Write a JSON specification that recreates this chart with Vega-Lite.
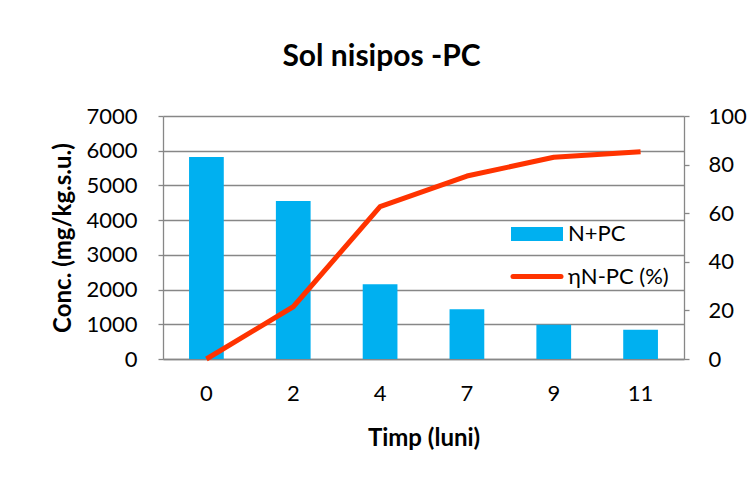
{
  "$schema": "https://vega.github.io/schema/vega-lite/v6.json",
  "width": 521,
  "height": 243,
  "autosize": {"type": "none"},
  "padding": {"left": 163, "top": 116, "right": 66, "bottom": 129},
  "background": "white",
  "title": {"text": "Sol nisipos -PC", "fontSize": 30, "font": "Lato", "fontWeight": "bold", "color": "#000000", "anchor": "middle", "dx": -42, "offset": 33},
  "config": {"view": {"stroke": null}, "font": "Lato"},
  "data": {
    "values": [
      {"t": "0", "conc": 5820, "eta": 0},
      {"t": "2", "conc": 4550, "eta": 21.5},
      {"t": "4", "conc": 2150, "eta": 62.7},
      {"t": "7", "conc": 1430, "eta": 75.3},
      {"t": "9", "conc": 990, "eta": 83},
      {"t": "11", "conc": 840, "eta": 85.3}
    ]
  },
  "encoding": {
    "x": {
      "field": "t",
      "type": "ordinal",
      "sort": ["0", "2", "4", "7", "9", "11"],
      "scale": {"paddingInner": 0.6, "paddingOuter": 0.3},
      "axis": {
        "title": "Timp (luni)",
        "labelAngle": 0,
        "ticks": false,
        "domainColor": "#878787",
        "domainWidth": 1.3,
        "labelFont": "Lato",
        "labelFontSize": 22,
        "labelPadding": 24,
        "labelColor": "#000000",
        "titleFont": "Lato",
        "titleFontSize": 24,
        "titleFontWeight": "bold",
        "titleColor": "#000000",
        "titlePadding": 22
      }
    }
  },
  "layer": [
    {
      "mark": {"type": "bar"},
      "encoding": {
        "y": {
          "field": "conc",
          "type": "quantitative",
          "scale": {"domain": [0, 7000]},
          "axis": {
            "title": "Conc. (mg/kg.s.u.)",
            "values": [0, 1000, 2000, 3000, 4000, 5000, 6000, 7000],
            "format": "d",
            "tickSize": 5,
            "tickColor": "#878787",
            "tickWidth": 1.3,
            "labelPadding": 21,
            "labelFont": "Lato",
            "labelFontSize": 22,
            "labelColor": "#000000",
            "titleFont": "Lato",
            "titleFontSize": 24,
            "titleFontWeight": "bold",
            "titleColor": "#000000",
            "titlePadding": 10,
            "gridColor": "#878787",
            "gridWidth": 1.3,
            "domainColor": "#878787",
            "domainWidth": 1.3
          }
        },
        "fill": {
          "datum": "N+PC",
          "scale": {"range": ["#00B0F0"]},
          "legend": {
            "orient": "none",
            "legendX": 348,
            "legendY": 92,
            "title": null,
            "symbolType": "M-1,-0.27H1V0.27H-1Z",
            "symbolSize": 2704,
            "symbolStrokeWidth": 0,
            "labelFont": "Lato",
            "labelFontSize": 22,
            "labelColor": "#000000",
            "labelOffset": 5,
            "padding": 0
          }
        }
      }
    },
    {
      "mark": {"type": "line", "strokeWidth": 5, "strokeJoin": "round", "strokeCap": "butt"},
      "encoding": {
        "y": {
          "field": "eta",
          "type": "quantitative",
          "scale": {"domain": [0, 100]},
          "axis": {
            "orient": "right",
            "title": null,
            "grid": false,
            "values": [0, 20, 40, 60, 80, 100],
            "tickSize": 5,
            "tickColor": "#878787",
            "tickWidth": 1.3,
            "labelPadding": 19,
            "labelFont": "Lato",
            "labelFontSize": 22,
            "labelColor": "#000000",
            "domainColor": "#878787",
            "domainWidth": 1.3
          }
        },
        "stroke": {
          "datum": "ηN-PC (%)",
          "scale": {"range": ["#FF3300"]},
          "legend": {
            "orient": "none",
            "legendX": 347.5,
            "legendY": 134,
            "title": null,
            "symbolType": "stroke",
            "symbolSize": 2304,
            "symbolStrokeWidth": 5,
            "labelFont": "Lato",
            "labelFontSize": 22,
            "labelColor": "#000000",
            "labelOffset": 4.5,
            "padding": 0,
            "encode": {"symbols": {"update": {"strokeCap": {"value": "round"}}}}
          }
        }
      }
    }
  ],
  "resolve": {"scale": {"y": "independent"}}
}
